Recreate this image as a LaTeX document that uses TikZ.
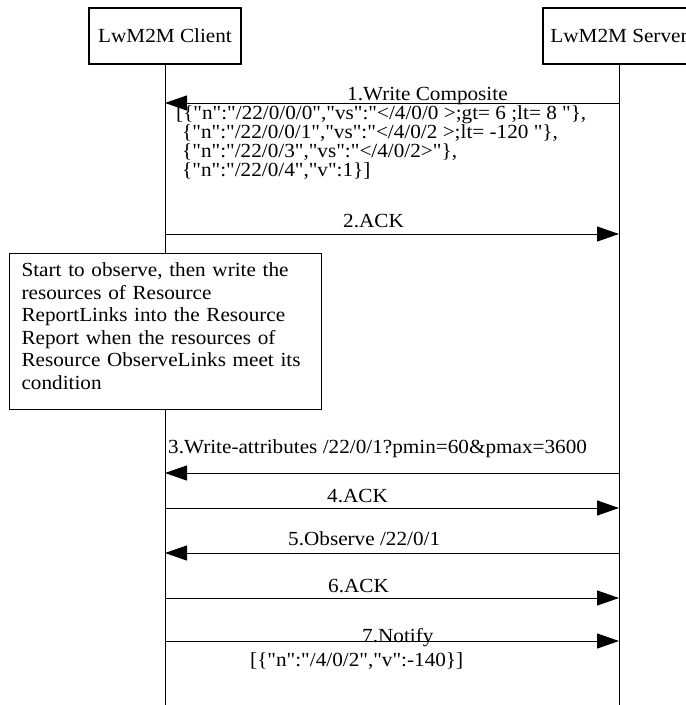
\documentclass[tikz,border=0pt]{standalone}
\usepackage{fontspec}
\setmainfont{Liberation Serif}[Ligatures=TeXOff, FakeStretch=1.06]
\usetikzlibrary{arrows.meta}
\begin{document}
\begin{tikzpicture}[x=1pt,y=-1pt,
  every node/.style={font=\fontsize{20}{20}\selectfont, inner sep=0pt},
  actor/.style={draw, line width=1.1pt, minimum width=152pt, minimum height=56pt},
  life/.style={line width=1pt},
  msg/.style={line width=1pt, -{Triangle[length=22pt,width=15pt]}},
  lbl/.style={anchor=base west},
  notebox/.style={draw, line width=1.1pt, fill=white, anchor=north west,
    minimum width=312pt, minimum height=156pt, text width=288pt, inner xsep=12pt,
    align=left, font=\fontsize{20}{22.6}\selectfont},
  ]
\clip (0,0) rectangle (686,705);
% actors
\node[actor] (client) at (165,36) {LwM2M Client};
\node[actor] (server) at (619,36) {LwM2M Server};
% lifelines
\coordinate (cb) at (165,705);
\coordinate (sb) at (619,705);
\draw[life] (client.south) -- (cb);
\draw[life] (server.south) -- (sb);
% message end points
\foreach \i/\y in {1/103,2/234,3/473,4/508,5/553,6/598,7/641}{
  \coordinate (c\i) at (165,\y);
  \coordinate (s\i) at (619,\y);
}
% messages
\draw[msg] (s1) -- (c1);
\draw[msg] (c2) -- (s2);
\draw[msg] (s3) -- (c3);
\draw[msg] (c4) -- (s4);
\draw[msg] (s5) -- (c5);
\draw[msg] (c6) -- (s6);
\draw[msg] (c7) -- (s7);
% labels
\node[lbl] (l1) at (347,100.7) {1.Write Composite};
\node[lbl] (j1) at (176,119.5) {[\{"n":"/22/0/0/0","vs":"</4/0/0 >;gt= 6 ;lt= 8 "\},};
\node[lbl] (j2) at (182,138.5) {\{"n":"/22/0/0/1","vs":"</4/0/2 >;lt= -120 "\},};
\node[lbl] (j3) at (182,157.3) {\{"n":"/22/0/3","vs":"</4/0/2>"\},};
\node[lbl] (j4) at (182,176.3) {\{"n":"/22/0/4","v":1\}]};
\node[lbl] (l2) at (343,227) {2.ACK};
\node[notebox] (note) at (9,253) {Start to observe, then write the\\
resources of Resource\\
ReportLinks into the Resource\\
Report when the resources of\\
Resource ObserveLinks meet its\\
condition\rule[-11pt]{0pt}{0pt}};
\node[lbl] (l3) at (168,453.5) {3.Write-attributes /22/0/1?pmin=60\&pmax=3600};
\node[lbl] (l4) at (327,502) {4.ACK};
\node[lbl] (l5) at (288,545) {5.Observe /22/0/1};
\node[lbl] (l6) at (328,592) {6.ACK};
\node[lbl] (l7) at (362,642) {7.Notify};
\node[lbl] (l7b) at (250,666) {[\{"n":"/4/0/2","v":-140\}]};
\end{tikzpicture}
\end{document}
